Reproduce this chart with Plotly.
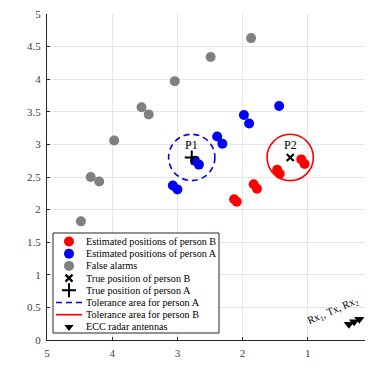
import plotly.graph_objects as go

# ---------------- data ----------------
false_x = [3.04, 3.55, 3.44, 3.97, 4.33, 4.20, 4.48, 1.87, 2.49]
false_y = [3.97, 3.57, 3.46, 3.06, 2.50, 2.43, 1.82, 4.63, 4.34]

personA_x = [1.44, 1.98, 1.90, 2.39, 2.31, 2.73, 2.67, 3.07, 3.00]
personA_y = [3.59, 3.45, 3.32, 3.12, 3.01, 2.75, 2.69, 2.37, 2.31]

personB_x = [2.13, 2.09, 1.83, 1.78, 1.47, 1.43, 1.10, 1.05]
personB_y = [2.16, 2.12, 2.39, 2.32, 2.61, 2.55, 2.77, 2.70]

trueA = (2.78, 2.80)
trueB = (1.27, 2.80)
tol_radius = 0.355

antenna_x = [0.37, 0.29, 0.21]
antenna_y = [0.24, 0.28, 0.32]
antenna_label = "Rx<sub>1</sub>, Tx, Rx<sub>2</sub>"

x_ticks = [5, 4, 3, 2, 1, 0]
y_ticks = [0, 0.5, 1, 1.5, 2, 2.5, 3, 3.5, 4, 4.5, 5]

legend_labels = [
    "Estimated positions of person B",
    "Estimated positions of person A",
    "False alarms",
    "True position of person B",
    "True position of person A",
    "Tolerance area for person A",
    "Tolerance area for person B",
    "ECC radar antennas",
]

FONT = "Liberation Serif, Times New Roman, serif"
RED = "#ff0000"
BLUE = "#0000ff"
GRAY = "#808080"
DARK = "#262626"

# page is offset by the default 8px body margin
OFF = 8
PAGE_W, PAGE_H = 373, 371
PLOT_L, PLOT_R, PLOT_T, PLOT_B = 47, 373, 14, 340   # plot area in page pixels
W, H = PAGE_W - OFF, PAGE_H - OFF
L, R = PLOT_L - OFF, PAGE_W - PLOT_R
T, B = PLOT_T - OFF, PAGE_H - PLOT_B

fig = go.Figure()

mk = 10
fig.add_trace(go.Scatter(x=false_x, y=false_y, mode="markers",
                         marker=dict(color=GRAY, size=mk), showlegend=False))
fig.add_trace(go.Scatter(x=personA_x, y=personA_y, mode="markers",
                         marker=dict(color=BLUE, size=mk), showlegend=False))
fig.add_trace(go.Scatter(x=personB_x, y=personB_y, mode="markers",
                         marker=dict(color=RED, size=mk), showlegend=False))
fig.add_trace(go.Scatter(x=[trueB[0]], y=[trueB[1]], mode="markers",
                         marker=dict(symbol="x-thin", size=7, line=dict(color="black", width=2.2)),
                         showlegend=False))
fig.add_trace(go.Scatter(x=[trueA[0]], y=[trueA[1]], mode="markers",
                         marker=dict(symbol="cross-thin", size=10, line=dict(color="black", width=2)),
                         showlegend=False))
fig.add_trace(go.Scatter(x=antenna_x, y=antenna_y, mode="markers",
                         marker=dict(symbol="triangle-down", size=9, color="black"),
                         showlegend=False))

# tolerance circles
fig.add_shape(type="circle", xref="x", yref="y",
              x0=trueA[0] - tol_radius, x1=trueA[0] + tol_radius,
              y0=trueA[1] - tol_radius, y1=trueA[1] + tol_radius,
              line=dict(color=BLUE, width=1.6, dash="6px,4px"))
fig.add_shape(type="circle", xref="x", yref="y",
              x0=trueB[0] - tol_radius, x1=trueB[0] + tol_radius,
              y0=trueB[1] - tol_radius, y1=trueB[1] + tol_radius,
              line=dict(color=RED, width=1.6))

fig.add_annotation(x=trueA[0], y=trueA[1], text="P1", showarrow=False, yshift=12,
                   font=dict(family=FONT, size=12, color="black"))
fig.add_annotation(x=trueB[0], y=trueB[1], text="P2", showarrow=False, yshift=12,
                   font=dict(family=FONT, size=12, color="black"))
fig.add_annotation(x=0.62, y=0.44, text=antenna_label, showarrow=False, textangle=-23,
                   font=dict(family=FONT, size=10.5, color="black"))

# ---------------- custom compact legend (page-pixel overlay axes) ----------------
box_x0, box_x1, box_y0, box_y1 = 53, 219, 233, 333
row0, row_step = 241.5, 12.2
sym_x, text_x = 69, 84
line_x0, line_x1 = 56, 82

fig.add_trace(go.Scatter(x=[box_x0, box_x1, box_x1, box_x0, box_x0],
                         y=[box_y0, box_y0, box_y1, box_y1, box_y0],
                         mode="lines", fill="toself", fillcolor="white",
                         line=dict(color=DARK, width=1),
                         xaxis="x2", yaxis="y2", showlegend=False, hoverinfo="skip"))

rows = [row0 + i * row_step for i in range(len(legend_labels))]
sym_specs = [
    dict(symbol="circle", size=mk, color=RED),
    dict(symbol="circle", size=mk, color=BLUE),
    dict(symbol="circle", size=mk, color=GRAY),
    dict(symbol="x-thin", size=7, line=dict(color="black", width=2.2)),
    dict(symbol="cross-thin", size=10, line=dict(color="black", width=2)),
    None,
    None,
    dict(symbol="triangle-down", size=8, color="black"),
]
for i, spec in enumerate(sym_specs):
    if spec is not None:
        fig.add_trace(go.Scatter(x=[sym_x], y=[rows[i]], mode="markers", marker=spec,
                                 xaxis="x2", yaxis="y2", showlegend=False, hoverinfo="skip"))
fig.add_trace(go.Scatter(x=[line_x0, line_x1], y=[rows[5], rows[5]], mode="lines",
                         line=dict(color=BLUE, width=1.6, dash="6px,4px"),
                         xaxis="x2", yaxis="y2", showlegend=False, hoverinfo="skip"))
fig.add_trace(go.Scatter(x=[line_x0, line_x1], y=[rows[6], rows[6]], mode="lines",
                         line=dict(color=RED, width=1.6),
                         xaxis="x2", yaxis="y2", showlegend=False, hoverinfo="skip"))
for i, lab in enumerate(legend_labels):
    fig.add_annotation(xref="x2", yref="y2", x=text_x, y=rows[i], text=lab, showarrow=False,
                       xanchor="left", yanchor="middle",
                       font=dict(family=FONT, size=10.2, color="black"))

# axis titles (page-pixel positions)
fig.add_annotation(xref="x2", yref="y2", x=210, y=363, text="x-coordinate [m]", showarrow=False,
                   font=dict(family=FONT, size=11, color=DARK))
fig.add_annotation(xref="x2", yref="y2", x=22, y=177, text="y-coordinate [m]", showarrow=False,
                   textangle=-90, font=dict(family=FONT, size=11, color=DARK))

axis_common = dict(showgrid=True, gridcolor="#e6e6e6", gridwidth=1, zeroline=False,
                   ticks="inside", ticklen=3, tickcolor=DARK, tickwidth=1,
                   showline=True, linecolor=DARK, linewidth=1.3,
                   ticklabeloverflow="allow",
                   tickfont=dict(family=FONT, size=11, color="#404040"))

fig.update_layout(
    width=W, height=H,
    margin=dict(l=L, r=R, t=T, b=B, pad=0),
    paper_bgcolor="white", plot_bgcolor="white",
    showlegend=False,
    font=dict(family=FONT, size=11, color=DARK),
    xaxis=dict(range=[5, 0], tickvals=x_ticks, ticktext=[str(v) for v in x_ticks],
               ticklabelstandoff=3, automargin=False, **axis_common),
    yaxis=dict(range=[0, 5], tickvals=y_ticks, ticktext=[f"{v:g}" for v in y_ticks],
               ticklabelstandoff=3, automargin=False, **axis_common),
    xaxis2=dict(overlaying="x", range=[PLOT_L, PLOT_R], visible=False, fixedrange=True),
    yaxis2=dict(overlaying="y", range=[PLOT_B, PLOT_T], visible=False, fixedrange=True),
)

fig.write_html("out.html")
